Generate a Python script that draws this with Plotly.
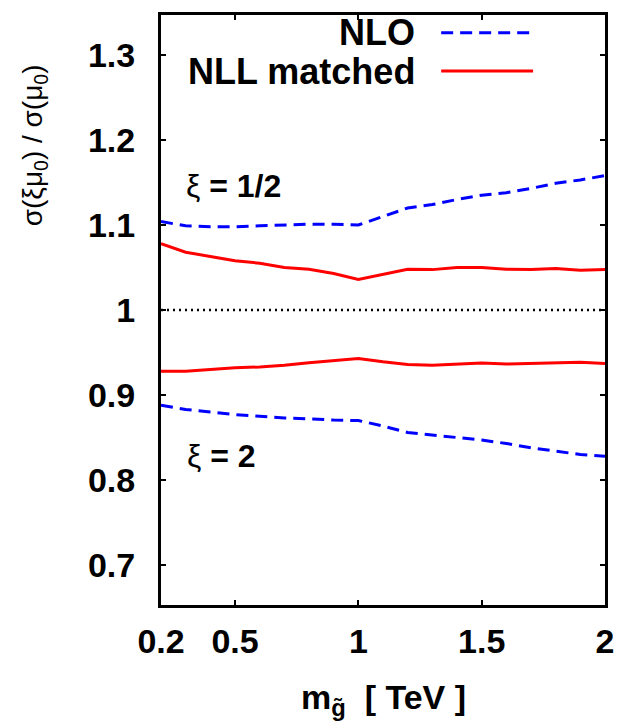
import plotly.graph_objects as go

# gluino mass [TeV]
mass = [0.2, 0.3, 0.4, 0.5, 0.6, 0.7, 0.8, 0.9, 1.0, 1.1, 1.2, 1.3, 1.4, 1.5, 1.6, 1.7, 1.8, 1.9, 2.0]

# xi = 1/2
nlo_half = [1.104, 1.099, 1.098, 1.098, 1.099, 1.100, 1.101, 1.101, 1.100, 1.110, 1.120,
            1.124, 1.130, 1.135, 1.138, 1.143, 1.149, 1.153, 1.158]
nll_half = [1.078, 1.068, 1.063, 1.058, 1.055, 1.050, 1.048, 1.043, 1.036, 1.042, 1.048,
            1.0475, 1.050, 1.050, 1.048, 1.0475, 1.0488, 1.0468, 1.0475]

# xi = 2
nlo_two = [0.888, 0.883, 0.880, 0.877, 0.875, 0.873, 0.872, 0.8705, 0.870, 0.8635, 0.856,
           0.853, 0.850, 0.847, 0.843, 0.838, 0.834, 0.830, 0.828]
nll_two = [0.928, 0.928, 0.930, 0.932, 0.933, 0.935, 0.938, 0.9407, 0.943, 0.939, 0.936,
           0.935, 0.9364, 0.9376, 0.9364, 0.937, 0.937, 0.9384, 0.9372]

ref_x = [0.2, 2.0]
ref_y = [1.0, 1.0]

x_ticks = [0.2, 0.5, 1.0, 1.5, 2.0]
x_ticktext = ["0.2", "0.5", "1", "1.5", "2"]
y_ticks = [0.7, 0.8, 0.9, 1.0, 1.1, 1.2, 1.3]
y_ticktext = ["0.7", "0.8", "0.9", "1", "1.1", "1.2", "1.3"]

BLUE = "#0000ff"
RED = "#ff0000"
FONT = "Liberation Sans"

fig = go.Figure()
fig.add_trace(go.Scatter(x=ref_x, y=ref_y, mode="lines",
                         line=dict(color="black", width=2.5, dash="2px,4px"), showlegend=False))
for ys in (nlo_half, nlo_two):
    fig.add_trace(go.Scatter(x=mass, y=ys, mode="lines",
                             line=dict(color=BLUE, width=3, dash="12px,7px"), showlegend=False))
for ys in (nll_half, nll_two):
    fig.add_trace(go.Scatter(x=mass, y=ys, mode="lines",
                             line=dict(color=RED, width=3), showlegend=False))

axis_common = dict(showline=True, linecolor="black", linewidth=3, mirror="allticks",
                   ticks="inside", ticklen=5, tickwidth=2, tickcolor="black",
                   showgrid=False, zeroline=False,
                   tickfont=dict(family=FONT, size=34, color="black", weight="bold"))

fig.update_xaxes(range=[0.2, 2.0], tickvals=x_ticks, ticktext=x_ticktext,
                 ticklabelstandoff=4, **axis_common)
fig.update_yaxes(range=[0.653, 1.347], tickvals=y_ticks, ticktext=y_ticktext,
                 ticklabelstandoff=16, **axis_common)

# legend (text left of sample, gnuplot style)
legend_items = [("NLO", BLUE, "12px,7px", 0.97), ("NLL matched", RED, "solid", 0.905)]
for label, col, dash, yp in legend_items:
    fig.add_annotation(xref="paper", yref="paper", x=0.5756, y=yp, text="<b>%s</b>" % label,
                       showarrow=False, xanchor="right", yanchor="middle",
                       font=dict(family=FONT, size=36, color="black"))
    fig.add_shape(type="line", xref="paper", yref="paper", x0=0.631, x1=0.838, y0=yp, y1=yp,
                  line=dict(color=col, width=3, dash=dash))

# curve labels
fig.add_annotation(x=0.294, y=1.146, text="ξ <b>= 1/2</b>", showarrow=False,
                   xanchor="left", yanchor="middle", font=dict(family=FONT, size=32, color="black"))
fig.add_annotation(x=0.298, y=0.828, text="ξ <b>= 2</b>", showarrow=False,
                   xanchor="left", yanchor="middle", font=dict(family=FONT, size=32, color="black"))

# axis titles
fig.add_annotation(xref="paper", yref="paper", x=-0.285, y=0.78, textangle=-90,
                   text="σ(ξμ<sub>0</sub>) / σ(μ<sub>0</sub>)", showarrow=False,
                   xanchor="center", yanchor="middle", font=dict(family=FONT, size=28, color="black"))
fig.add_annotation(xref="paper", yref="paper", x=0.5, y=-0.16,
                   text="<b>m<sub>g̃</sub>  [ TeV ]</b>", showarrow=False,
                   xanchor="center", yanchor="middle", font=dict(family=FONT, size=34, color="black"))

fig.update_layout(width=626, height=723, margin=dict(l=161, r=15, t=12, b=118),
                  plot_bgcolor="white", paper_bgcolor="white", showlegend=False)

fig.write_html("out.html")
